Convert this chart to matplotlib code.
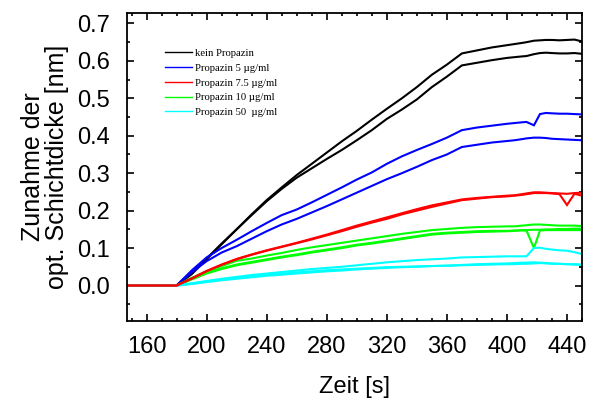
import matplotlib
matplotlib.use("Agg")
import matplotlib.pyplot as plt
from matplotlib.ticker import MultipleLocator
from matplotlib.lines import Line2D

# Zeitachse (s)
zeit = [145, 180, 190, 200, 210, 220, 230, 240, 250, 260, 270, 280, 290, 300,
        310, 320, 330, 340, 350, 360, 370, 380, 390, 400, 405, 410, 413, 418,
        422, 426, 430, 435, 440, 445, 450]

# kein Propazin
kein_1 = [0, 0, 0.030, 0.070, 0.110, 0.150, 0.190, 0.228, 0.262, 0.295, 0.325,
          0.355, 0.385, 0.413, 0.443, 0.472, 0.500, 0.530, 0.563, 0.590, 0.620,
          0.628, 0.636, 0.642, 0.645, 0.648, 0.650, 0.654, 0.655, 0.656, 0.656,
          0.655, 0.656, 0.657, 0.652]
kein_2 = [0, 0, 0.032, 0.072, 0.112, 0.150, 0.188, 0.225, 0.258, 0.288, 0.313,
          0.338, 0.362, 0.388, 0.415, 0.445, 0.470, 0.497, 0.530, 0.558, 0.588,
          0.595, 0.602, 0.608, 0.610, 0.612, 0.613, 0.618, 0.621, 0.622, 0.621,
          0.620, 0.620, 0.621, 0.619]

# Propazin 5 µg/ml
p5_1 = [0, 0, 0.040, 0.075, 0.100, 0.122, 0.145, 0.167, 0.188, 0.203, 0.222,
        0.242, 0.262, 0.283, 0.302, 0.325, 0.345, 0.362, 0.378, 0.395, 0.415,
        0.422, 0.427, 0.432, 0.434, 0.436, 0.437, 0.428, 0.458, 0.461, 0.460,
        0.459, 0.459, 0.458, 0.457]
p5_2 = [0, 0, 0.035, 0.065, 0.088, 0.105, 0.125, 0.145, 0.163, 0.178, 0.195,
        0.212, 0.230, 0.248, 0.266, 0.284, 0.300, 0.317, 0.335, 0.350, 0.370,
        0.376, 0.382, 0.386, 0.388, 0.391, 0.393, 0.395, 0.395, 0.394, 0.392,
        0.391, 0.390, 0.389, 0.388]

# Propazin 7.5 µg/ml
p75_1 = [0, 0, 0.018, 0.038, 0.055, 0.070, 0.082, 0.093, 0.103, 0.113, 0.123,
         0.134, 0.145, 0.157, 0.168, 0.178, 0.190, 0.200, 0.210, 0.219, 0.228,
         0.232, 0.236, 0.238, 0.240, 0.242, 0.244, 0.247, 0.247, 0.247, 0.246,
         0.244, 0.215, 0.245, 0.240]
p75_2 = [0, 0, 0.019, 0.039, 0.056, 0.071, 0.083, 0.094, 0.104, 0.114, 0.125,
         0.136, 0.148, 0.160, 0.171, 0.182, 0.193, 0.204, 0.214, 0.222, 0.230,
         0.234, 0.237, 0.240, 0.241, 0.244, 0.246, 0.249, 0.249, 0.248, 0.247,
         0.246, 0.245, 0.247, 0.248]

# Propazin 10 µg/ml
p10_1 = [0, 0, 0.020, 0.038, 0.052, 0.066, 0.072, 0.080, 0.087, 0.095, 0.102,
         0.108, 0.114, 0.120, 0.126, 0.132, 0.138, 0.143, 0.148, 0.151, 0.154,
         0.156, 0.157, 0.158, 0.158, 0.160, 0.161, 0.163, 0.163, 0.162, 0.161,
         0.160, 0.160, 0.160, 0.159]
p10_2 = [0, 0, 0.016, 0.032, 0.044, 0.054, 0.061, 0.068, 0.075, 0.081, 0.088,
         0.094, 0.100, 0.107, 0.112, 0.118, 0.124, 0.130, 0.136, 0.139, 0.141,
         0.143, 0.144, 0.145, 0.146, 0.147, 0.147, 0.100, 0.147, 0.148, 0.148,
         0.148, 0.148, 0.148, 0.148]
p10_3 = [0, 0, 0.017, 0.034, 0.046, 0.056, 0.063, 0.070, 0.077, 0.083, 0.090,
         0.096, 0.102, 0.109, 0.114, 0.120, 0.126, 0.132, 0.138, 0.141, 0.143,
         0.145, 0.146, 0.146, 0.147, 0.148, 0.148, 0.149, 0.149, 0.150, 0.150,
         0.151, 0.151, 0.152, 0.152]

# Propazin 50 µg/ml
p50_1 = [0, 0, 0.006, 0.012, 0.018, 0.023, 0.028, 0.032, 0.036, 0.040, 0.044,
         0.047, 0.050, 0.054, 0.058, 0.062, 0.065, 0.068, 0.070, 0.072, 0.075,
         0.076, 0.077, 0.078, 0.078, 0.078, 0.078, 0.100, 0.101, 0.098, 0.096,
         0.094, 0.093, 0.089, 0.084]
p50_2 = [0, 0, 0.004, 0.009, 0.014, 0.018, 0.022, 0.026, 0.029, 0.032, 0.035,
         0.038, 0.040, 0.043, 0.045, 0.047, 0.049, 0.050, 0.052, 0.053, 0.054,
         0.055, 0.056, 0.057, 0.057, 0.058, 0.058, 0.059, 0.060, 0.059, 0.058,
         0.058, 0.057, 0.057, 0.056]
p50_3 = [0, 0, 0.005, 0.011, 0.016, 0.021, 0.025, 0.029, 0.032, 0.035, 0.038,
         0.041, 0.043, 0.045, 0.047, 0.049, 0.050, 0.051, 0.052, 0.053, 0.055,
         0.057, 0.058, 0.059, 0.060, 0.061, 0.061, 0.062, 0.061, 0.060, 0.059,
         0.058, 0.057, 0.056, 0.055]

legend_labels = ["kein Propazin", "Propazin 5 µg/ml", "Propazin 7.5 µg/ml",
                 "Propazin 10 µg/ml", "Propazin 50  µg/ml"]
colors = ["#000000", "#0000ff", "#ff0000", "#00ff00", "#00ffff"]
groups = [[kein_1, kein_2], [p5_1, p5_2], [p75_1, p75_2],
          [p10_1, p10_2, p10_3], [p50_1, p50_2, p50_3]]

plt.rcParams["font.family"] = ["Liberation Sans", "DejaVu Sans"]

fig = plt.figure(figsize=(5.95, 3.99), dpi=100)
ax = fig.add_axes([127 / 595, 1 - 320.7 / 399, 455 / 595, 307.7 / 399])

draw_order = [0, 1, 3, 4, 2]
for gi in draw_order:
    for series in groups[gi]:
        ax.plot(zeit, series, color=colors[gi], lw=1.5, solid_joinstyle="miter")

ax.set_xlim(147, 450)
ax.set_ylim(-0.094, 0.728)
ax.xaxis.set_major_locator(MultipleLocator(40))
ax.xaxis.set_minor_locator(MultipleLocator(10))
ax.yaxis.set_major_locator(MultipleLocator(0.1))
ax.yaxis.set_minor_locator(MultipleLocator(0.05))
ax.yaxis.set_major_formatter(plt.FuncFormatter(lambda v, p: f"{v:.1f}"))

ax.tick_params(which="both", direction="in", top=True, right=True,
               width=1.2, colors="black")
ax.tick_params(which="major", length=5)
ax.tick_params(which="minor", length=2.5)
ax.tick_params(axis="y", which="major", labelsize=17, pad=12)
ax.tick_params(axis="x", which="major", labelsize=17, pad=11)
for s in ax.spines.values():
    s.set_linewidth(1.3)

ax.set_xlabel("Zeit [s]", fontsize=17, labelpad=13)
ax.set_ylabel("Zunahme der\nopt. Schichtdicke [nm]", fontsize=18,
              linespacing=1.0, labelpad=6)

handles = [Line2D([], [], color=c, lw=1.0) for c in colors]
ax.legend(handles, legend_labels, loc="upper left",
          bbox_to_anchor=(0.0835, 0.885), borderaxespad=0, borderpad=0,
          frameon=False, handlelength=2.5, handletextpad=0.3,
          labelspacing=0.5,
          prop={"family": "Liberation Serif", "size": 7.7})

fig.savefig("out.png", dpi=100)
